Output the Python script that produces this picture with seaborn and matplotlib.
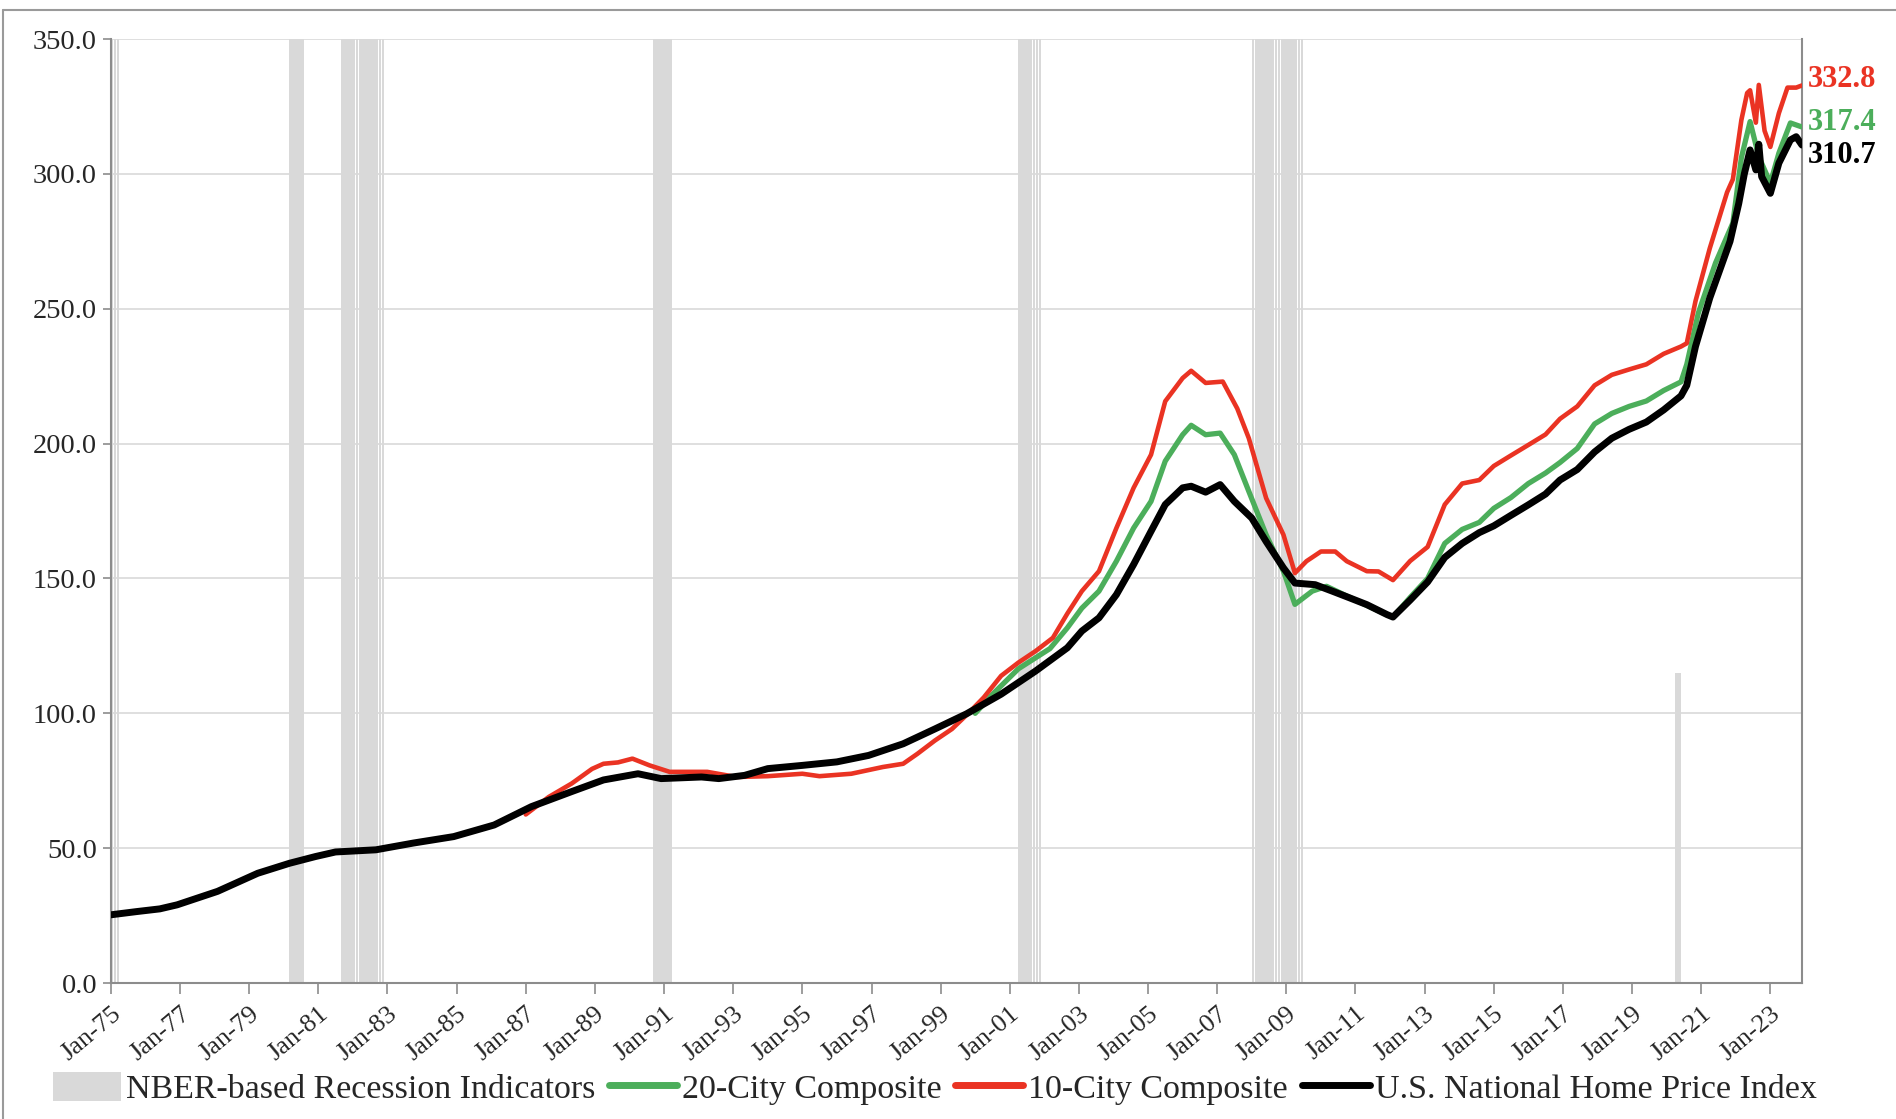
import pandas as pd
import matplotlib.pyplot as plt
from matplotlib.patches import Patch
from matplotlib.lines import Line2D
import seaborn as sns

# U.S. National Home Price Index
nat_months = ["1975-01", "1975-10", "1976-06", "1976-12", "1978-02", "1979-04", "1980-03",
              "1980-12", "1981-07", "1982-09", "1983-10", "1984-12", "1986-02", "1987-03",
              "1988-05", "1989-04", "1990-04", "1990-12", "1992-02", "1992-08", "1993-05",
              "1994-01", "1995-01", "1996-01", "1996-12", "1997-12", "1998-11", "1999-10",
              "2000-10", "2001-10", "2002-09", "2003-02", "2003-08", "2004-02", "2004-08",
              "2005-02", "2005-07", "2006-01", "2006-04", "2006-09", "2007-02", "2007-07",
              "2008-01", "2008-06", "2008-12", "2009-04", "2009-11", "2010-05", "2010-11",
              "2011-05", "2011-12", "2012-02", "2012-08", "2013-02", "2013-08", "2014-02",
              "2014-08", "2015-01", "2015-07", "2016-01", "2016-07", "2016-12", "2017-06",
              "2017-12", "2018-06", "2018-12", "2019-06", "2019-12", "2020-06", "2020-08",
              "2020-11", "2021-04", "2021-11", "2022-02", "2022-04", "2022-06", "2022-08",
              "2022-09", "2022-10", "2023-01", "2023-04", "2023-08", "2023-10", "2023-12"]
nat_values = [25.3, 26.5, 27.5, 29.0, 34.0, 40.7, 44.4,
              46.9, 48.6, 49.4, 51.9, 54.3, 58.6, 65.4,
              71.0, 75.3, 77.6, 75.8, 76.4, 75.8, 77.0,
              79.5, 80.7, 82.0, 84.4, 88.7, 94.2, 99.8,
              107.1, 115.7, 124.3, 130.5, 135.4, 144.0, 155.2,
              167.5, 177.4, 183.6, 184.2, 182.0, 184.8, 178.6,
              172.4, 163.7, 153.9, 148.3, 147.7, 145.3, 142.8,
              140.3, 136.6, 135.7, 142.0, 148.7, 157.8, 163.0,
              167.0, 169.5, 173.4, 177.3, 181.3, 186.5, 190.4,
              196.9, 202.0, 205.3, 208.0, 212.5, 217.7, 221.6,
              236.0, 254.0, 275.0, 289.0, 300.0, 308.9, 301.5,
              311.0, 299.0, 292.8, 304.0, 312.6, 313.8, 310.7]

# 10-City Composite
c10_months = ["1987-01", "1987-09", "1988-05", "1988-12", "1989-04", "1989-09", "1990-02",
              "1990-08", "1991-03", "1992-04", "1993-02", "1994-01", "1995-01", "1995-07",
              "1996-06", "1997-05", "1997-12", "1998-05", "1998-11", "1999-05", "1999-11",
              "2000-04", "2000-10", "2001-04", "2001-10", "2002-04", "2002-09", "2003-02",
              "2003-08", "2004-02", "2004-08", "2005-02", "2005-07", "2006-01", "2006-04",
              "2006-09", "2007-03", "2007-08", "2007-12", "2008-06", "2008-12", "2009-04",
              "2009-08", "2010-01", "2010-06", "2010-10", "2011-05", "2011-09", "2012-02",
              "2012-08", "2013-02", "2013-08", "2014-02", "2014-08", "2015-01", "2015-07",
              "2016-01", "2016-07", "2016-12", "2017-06", "2017-12", "2018-06", "2018-12",
              "2019-06", "2019-12", "2020-06", "2020-08", "2020-11", "2021-04", "2021-10",
              "2021-12", "2022-03", "2022-05", "2022-06", "2022-08", "2022-09", "2022-11",
              "2023-01", "2023-04", "2023-07", "2023-10", "2023-12"]
c10_values = [62.5, 69.0, 74.0, 79.4, 81.3, 81.8, 83.2,
              80.7, 78.3, 78.3, 76.4, 76.7, 77.6, 76.7,
              77.6, 80.1, 81.3, 85.0, 89.9, 94.2, 100.4,
              105.9, 113.9, 118.8, 123.1, 128.0, 137.0, 145.3,
              152.7, 168.7, 183.6, 195.9, 215.7, 224.3, 227.0,
              222.5, 223.0, 213.0, 202.0, 179.8, 166.2, 152.0,
              156.4, 160.0, 160.0, 156.4, 152.7, 152.6, 149.4,
              156.5, 161.7, 177.4, 185.2, 186.5, 191.7, 195.6,
              199.5, 203.4, 209.2, 213.8, 221.6, 225.5, 227.5,
              229.4, 233.3, 236.0, 237.2, 252.8, 272.4, 293.2,
              298.0, 320.0, 330.0, 331.0, 319.0, 333.0, 316.0,
              310.0, 322.5, 332.0, 332.0, 332.8]

# 20-City Composite
c20_months = ["2000-01", "2000-07", "2001-04", "2002-03", "2002-09", "2003-02", "2003-08",
              "2004-02", "2004-08", "2005-02", "2005-07", "2006-01", "2006-04", "2006-09",
              "2007-02", "2007-07", "2007-12", "2008-06", "2008-12", "2009-04", "2009-10",
              "2010-03", "2010-09", "2011-03", "2011-11", "2012-02", "2012-08", "2013-02",
              "2013-08", "2014-02", "2014-08", "2015-01", "2015-07", "2016-01", "2016-07",
              "2016-12", "2017-06", "2017-12", "2018-06", "2018-12", "2019-06", "2019-12",
              "2020-06", "2020-08", "2020-12", "2021-06", "2021-12", "2022-03", "2022-06",
              "2022-09", "2023-01", "2023-04", "2023-08", "2023-12"]
c20_values = [100.0, 107.0, 116.5, 124.0, 131.7, 139.0, 145.3,
              156.4, 168.7, 178.6, 193.5, 203.3, 206.8, 203.3,
              203.9, 195.9, 182.3, 166.2, 152.7, 140.4, 145.3,
              147.1, 144.0, 141.0, 137.0, 135.7, 143.0, 150.0,
              163.0, 168.2, 170.8, 176.0, 180.0, 185.2, 189.1,
              193.0, 198.2, 207.3, 211.2, 213.8, 215.8, 219.7,
              222.9, 229.4, 248.4, 267.0, 281.8, 306.0, 319.4,
              306.4, 296.6, 307.7, 318.9, 317.4]

# NBER-based recession indicators (first month, last month, bar height)
rec_start = ["1975-01", "1980-03", "1981-09", "1990-09", "2001-04", "2008-01", "2020-04"]
rec_end = ["1975-03", "1980-07", "1982-11", "1991-03", "2001-11", "2009-06", "2020-05"]
rec_height = [350, 350, 350, 350, 350, 350, 115]

# x tick labels, every second January
tick_dates = ["1975-01", "1977-01", "1979-01", "1981-01", "1983-01", "1985-01", "1987-01",
              "1989-01", "1991-01", "1993-01", "1995-01", "1997-01", "1999-01", "2001-01",
              "2003-01", "2005-01", "2007-01", "2009-01", "2011-01", "2013-01", "2015-01",
              "2017-01", "2019-01", "2021-01", "2023-01"]
tick_labels = ["Jan-75", "Jan-77", "Jan-79", "Jan-81", "Jan-83", "Jan-85", "Jan-87",
               "Jan-89", "Jan-91", "Jan-93", "Jan-95", "Jan-97", "Jan-99", "Jan-01",
               "Jan-03", "Jan-05", "Jan-07", "Jan-09", "Jan-11", "Jan-13", "Jan-15",
               "Jan-17", "Jan-19", "Jan-21", "Jan-23"]

series_names = ["20-City Composite", "10-City Composite", "U.S. National Home Price Index"]
series_colors = ["#4cae5b", "#ea3323", "#000000"]
series_widths = [3.8, 3.3, 5.0]

frames = []
for name, months, values in zip(series_names, [c20_months, c10_months, nat_months],
                                [c20_values, c10_values, nat_values]):
    frames.append(pd.DataFrame({"date": pd.to_datetime(months), "value": values, "series": name}))
df = pd.concat(frames, ignore_index=True)

sns.set_theme(style="white")
plt.rcParams["font.family"] = ["Liberation Serif", "DejaVu Serif"]

fig = plt.figure(figsize=(18.96, 11.19), dpi=100)
ax = fig.add_axes([0.0585, 0.1215, 0.8919, 0.8436])

# recession bars, one per month
for s, e, h in zip(rec_start, rec_end, rec_height):
    months = pd.date_range(s, e, freq="MS")
    ax.bar(months, [h] * len(months), width=27, align="edge", color="#d9d9d9",
           linewidth=0, zorder=1)

for name, color, lw in zip(series_names, series_colors, series_widths):
    sns.lineplot(data=df[df["series"] == name], x="date", y="value", color=color,
                 linewidth=lw, ax=ax, zorder=3, legend=False)

# end-of-series labels
label_offsets = [1.8, 2.2, -3.8]
for name, color, off in zip(series_names, series_colors, label_offsets):
    last = df[df["series"] == name].iloc[-1]
    ax.annotate(f"{last['value']:.1f}", xy=(last["date"], last["value"] + off),
                xytext=(4, 0), textcoords="offset points", ha="left", va="center",
                color=color, fontsize=22, fontweight="bold", annotation_clip=False)

ax.set_xlim(pd.Timestamp("1975-01-01"), pd.Timestamp("2023-12-01"))
ax.set_ylim(0, 350)
ax.set_yticks(range(0, 351, 50))
ax.set_yticklabels([f"{v:.1f}" for v in range(0, 351, 50)])
ax.set_xticks(pd.to_datetime(tick_dates))
ax.set_xticklabels(tick_labels, rotation=40, ha="right", rotation_mode="anchor")
ax.set_xlabel("")
ax.set_ylabel("")

ax.grid(axis="y", color="#d9d9d9", linewidth=1.2, zorder=0)
ax.set_axisbelow(True)
for side in ["left", "bottom", "right"]:
    ax.spines[side].set_color("#8c8c8c")
    ax.spines[side].set_linewidth(1.5)
ax.spines["top"].set_visible(False)

ax.tick_params(axis="y", which="major", direction="out", length=6, width=1.2,
               color="#8c8c8c", labelsize=20.5, pad=4, left=True)
ax.tick_params(axis="x", which="major", direction="out", length=8, width=1.2,
               color="#8c8c8c", labelsize=19, pad=6, bottom=True)

handles = [Patch(facecolor="#d9d9d9", edgecolor="none", label="NBER-based Recession Indicators")]
for name, color in zip(series_names, series_colors):
    handles.append(Line2D([0], [0], color=color, linewidth=5, label=name))
fig.legend(handles=handles, loc="center", bbox_to_anchor=(0.493, 0.027), ncol=4,
           frameon=False, fontsize=24.5, handlelength=2.0, handleheight=0.9,
           handletextpad=0.15, columnspacing=0.4, borderaxespad=0)

# thin frame around the chart area like the original window
fig.add_artist(Line2D([0.0018, 0.0018], [0, 0.991], color="#9a9a9a", linewidth=1.5))
fig.add_artist(Line2D([0.0018, 1], [0.991, 0.991], color="#9a9a9a", linewidth=1.5))

fig.savefig("out.png", dpi=100)
